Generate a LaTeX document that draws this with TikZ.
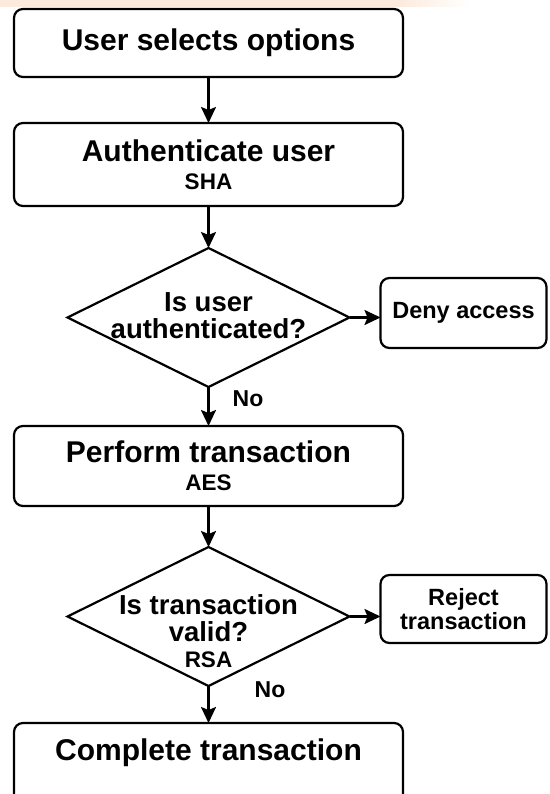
\documentclass[tikz,border=0pt]{standalone}
\usepackage{fontspec}
\setmainfont{Liberation Sans}
\usepackage{xcolor}
\usepackage{tikz}
\usetikzlibrary{arrows.meta,positioning,shapes.geometric}
\definecolor{peach}{HTML}{FCEBDD}
\newcommand{\algo}[1]{{\fontsize{22.5}{24}\selectfont #1}}

\begin{document}
\begin{tikzpicture}[
   x=1pt, y=-1pt,
   base/.style={draw, line width=2.2pt, outer sep=0pt, inner sep=0pt, align=center},
   procbox/.style={base, rounded corners=9pt, minimum width=389pt, font=\bfseries\fontsize{30}{31}\selectfont},
   sidebox/.style={base, rounded corners=9pt, minimum width=166pt, font=\bfseries\fontsize{23.5}{24}\selectfont},
   decision/.style={base, diamond, minimum width=282pt, minimum height=139pt},
   qtext/.style={align=center, inner sep=0pt, font=\bfseries\fontsize{27.5}{27}\selectfont},
   lbl/.style={inner sep=0pt, font=\bfseries\fontsize{23}{24}\selectfont},
   ar/.style={-{Stealth[length=16pt, width=15pt, inset=3pt]}, line width=2.2pt}
]
\useasboundingbox (0,0) rectangle (549,794);
\fill[peach] (0,0) rectangle (400,7);
\shade[left color=peach, right color=white] (400,0) rectangle (470,7);

\node[procbox, minimum height=68pt] (select) at (208.5,43) {User selects options};
\node[procbox, minimum height=83pt, below=46pt of select] (auth) {Authenticate user\\[-3pt]\algo{SHA}};
\node[decision, below=42pt of auth] (authok) {};
\node[qtext, yshift=2pt] (authq) at (authok) {Is user\\authenticated?};
\node[sidebox, minimum height=70pt, right=31pt of authok, yshift=4.5pt] (deny) {Deny access};
\node[procbox, minimum height=80pt, below=39pt of authok] (perform) {Perform transaction\\[-3pt]\algo{AES}};
\node[decision, below=41pt of perform] (valid) {};
\node[qtext, yshift=-15pt] (validq) at (valid) {Is transaction\\valid?\\[-1pt]\algo{RSA}};
\node[sidebox, minimum height=68pt, right=31pt of valid, yshift=7.5pt] (reject) {Reject\\transaction};
\node[procbox, minimum height=82pt, text depth=28pt, below=37pt of valid] (complete) {Complete transaction};
\node[lbl, anchor=west] (no1) at ([xshift=24pt, yshift=-12pt]authok.south) {No};
\node[lbl, anchor=west] (no2) at ([xshift=46pt, yshift=-4pt]valid.south) {No};

\draw[ar] (select)--(auth); \draw[ar] (auth)--(authok);
\draw[ar] (authok.east)--(authok.east -| deny.west); \draw[ar] (authok)--(perform);
\draw[ar] (perform)--(valid); \draw[ar] (valid.east)--(valid.east -| reject.west);
\draw[ar] (valid)--(complete);
\end{tikzpicture}
\end{document}
